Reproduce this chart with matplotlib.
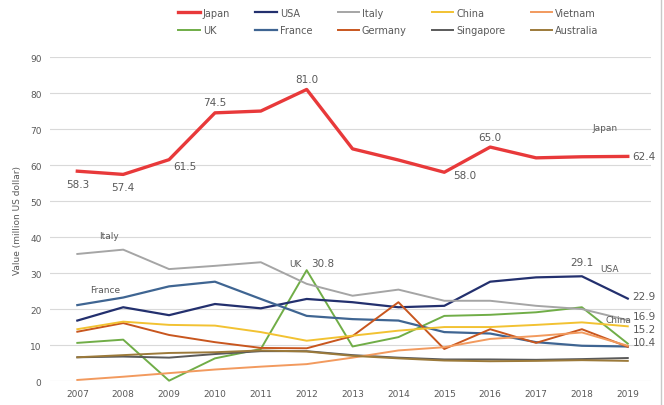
import numpy as np
import matplotlib
matplotlib.use("Agg")
from matplotlib import pyplot as plt
from matplotlib.lines import Line2D

years = list(range(2007, 2020))

japan = [58.3, 57.4, 61.5, 74.5, 75.0, 81.0, 64.5, 61.4, 58.0, 65.0, 62.0, 62.3, 62.4]
usa = [16.8, 20.5, 18.3, 21.4, 20.2, 22.8, 21.9, 20.5, 20.9, 27.6, 28.8, 29.1, 22.9]
italy = [35.3, 36.5, 31.1, 32.0, 33.0, 27.0, 23.7, 25.4, 22.3, 22.3, 20.9, 20.0, 16.9]
china = [14.4, 16.5, 15.6, 15.4, 13.6, 11.2, 12.6, 14.0, 15.0, 15.0, 15.6, 16.3, 15.2]
vietnam = [0.3, 1.2, 2.2, 3.2, 4.0, 4.7, 6.5, 8.5, 9.4, 11.7, 12.5, 13.5, 9.8]
uk = [10.6, 11.5, 0.1, 6.3, 8.9, 30.8, 9.6, 12.2, 18.1, 18.4, 19.1, 20.5, 10.4]
france = [21.1, 23.2, 26.3, 27.6, 22.8, 18.1, 17.2, 16.8, 13.6, 13.2, 10.8, 9.8, 9.6]
germany = [13.7, 16.1, 12.8, 10.8, 9.2, 9.1, 12.5, 21.9, 8.9, 14.4, 10.6, 14.4, 9.5]
singapore = [6.6, 6.8, 6.5, 7.5, 8.3, 8.3, 7.2, 6.5, 6.0, 6.0, 5.9, 6.1, 6.4]
australia = [6.6, 7.2, 7.8, 8.0, 8.5, 8.2, 7.0, 6.3, 5.7, 5.5, 5.6, 5.8, 5.6]

# legend order: two rows of five
series = [
    ("Japan", japan, "#E8393A", 2.4),
    ("UK", uk, "#70AD47", 1.4),
    ("USA", usa, "#23306E", 1.6),
    ("France", france, "#3F6592", 1.6),
    ("Italy", italy, "#A5A5A5", 1.4),
    ("Germany", germany, "#C8561E", 1.4),
    ("China", china, "#F2C232", 1.4),
    ("Singapore", singapore, "#5A5A5A", 1.4),
    ("Vietnam", vietnam, "#F29A5E", 1.4),
    ("Australia", australia, "#9C7A3A", 1.4),
]

txt = "#595959"

fig = plt.figure(figsize=(6.64, 4.06), dpi=100)
ax = fig.add_axes([0.075, 0.059, 0.905, 0.798])

for name, vals, col, lw in series:
    ax.plot(years, vals, color=col, lw=lw, label=name, clip_on=False,
            zorder=3 if name == "Japan" else 2)

ax.set_xlim(2006.4, 2019.5)
ax.set_ylim(0, 90)
ax.set_yticks(range(0, 91, 10))
ax.set_xticks(years)
ax.tick_params(length=0, labelsize=6.5, labelcolor=txt, pad=6)
ax.grid(axis="y", color="#D9D9D9", lw=0.8)
ax.set_axisbelow(True)
for s in ax.spines.values():
    s.set_visible(False)
ax.set_ylabel("Value (million US dollar)", fontsize=6.5, color=txt, labelpad=6)

# data labels for Japan
fs = 7.5
ax.text(2007, japan[0] - 2.2, f"{japan[0]:.1f}", ha="center", va="top", fontsize=fs, color=txt)
ax.text(2008, japan[1] - 2.2, f"{japan[1]:.1f}", ha="center", va="top", fontsize=fs, color=txt)
ax.text(2009.1, japan[2] - 0.5, f"{japan[2]:.1f}", ha="left", va="top", fontsize=fs, color=txt)
ax.text(2010, japan[3] + 1.5, f"{japan[3]:.1f}", ha="center", va="bottom", fontsize=fs, color=txt)
ax.text(2012, japan[5] + 1.5, f"{japan[5]:.1f}", ha="center", va="bottom", fontsize=fs, color=txt)
ax.text(2015.2, japan[8] + 0.5, f"{japan[8]:.1f}", ha="left", va="top", fontsize=fs, color=txt)
ax.text(2016, japan[9] + 1.5, f"{japan[9]:.1f}", ha="center", va="bottom", fontsize=fs, color=txt)
ax.text(2019.1, japan[12], f"{japan[12]:.1f}", ha="left", va="center", fontsize=fs, color=txt)
ax.text(2018.5, japan[11] + 7.0, "Japan", ha="center", va="bottom", fontsize=6.5, color=txt)

# other series labels
ax.text(2007.7, italy[1] + 3.8, "Italy", ha="center", va="center", fontsize=6.5, color=txt)
ax.text(2007.6, france[1] + 1.0, "France", ha="center", va="bottom", fontsize=6.5, color=txt)
ax.text(2011.9, uk[5] + 0.5, "UK", ha="right", va="bottom", fontsize=6.5, color=txt)
ax.text(2012.1, uk[5] + 0.5, f"{uk[5]:.1f}", ha="left", va="bottom", fontsize=fs, color=txt)
ax.text(2018, usa[11] + 2.5, f"{usa[11]:.1f}", ha="center", va="bottom", fontsize=fs, color=txt)
ax.text(2018.6, usa[11] + 1.0, "USA", ha="center", va="bottom", fontsize=6.5, color=txt)
ax.text(2019.1, usa[12] + 0.8, f"{usa[12]:.1f}", ha="left", va="center", fontsize=fs, color=txt)
ax.text(2019.1, italy[12] + 1.2, f"{italy[12]:.1f}", ha="left", va="center", fontsize=fs, color=txt)
ax.text(2018.8, china[12] + 2.0, "China", ha="center", va="center", fontsize=6.5, color=txt)
ax.text(2019.1, china[12] - 0.8, f"{china[12]:.1f}", ha="left", va="center", fontsize=fs, color=txt)
ax.text(2019.1, uk[12] + 0.5, f"{uk[12]:.1f}", ha="left", va="center", fontsize=fs, color=txt)

fig.legend(loc="upper center", bbox_to_anchor=(0.585, 1.0), ncol=5, frameon=False,
           fontsize=7, labelcolor=txt, handlelength=2.2, handletextpad=0.3,
           columnspacing=2.6, labelspacing=0.75)

# thin frame line at the right edge
fig.add_artist(Line2D([0.995, 0.995], [0.0, 1.0], transform=fig.transFigure,
                      color="#C8C8C8", lw=1.0))

fig.savefig("out.png", dpi=100)
